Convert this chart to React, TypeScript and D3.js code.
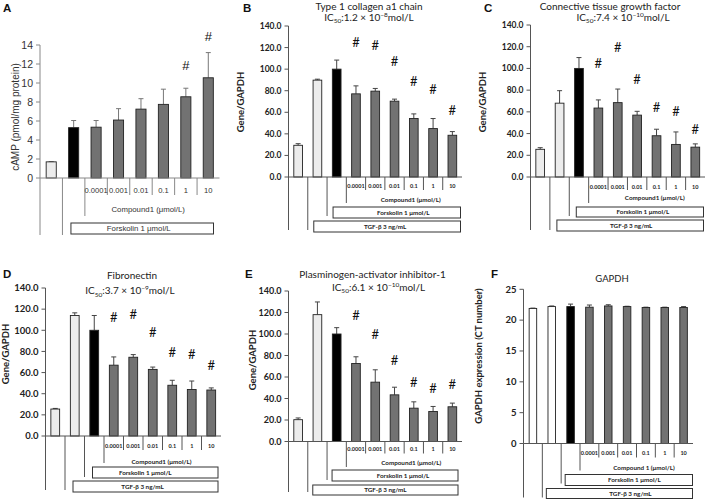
import React from "react";
import * as d3 from "d3";

// ---------- DATA ----------
const concLabels = ["0.0001", "0.001", "0.01", "0.1", "1", "10"];

const aValues = [1.7, 5.3, 5.35, 6.1, 7.25, 7.75, 8.55, 10.55];
const aErrors = [0.03, 0.75, 0.7, 1.2, 1.1, 1.6, 0.9, 2.65];
const aHash: (number | null)[] = [null, null, null, null, null, null, 11.85, 14.95];
const aTicks = [0, 2, 4, 6, 8, 10, 12, 14];

const bValues = [29.4, 89.8, 100, 77.1, 79.6, 70.3, 54.2, 44.9, 38.7];
const bErrors = [1.5, 0.9, 8.4, 7.4, 2.5, 1.9, 4.3, 9.3, 3.4];
const bHash: (number | null)[] = [null, null, null, 125, 122, 106.8, 88.2, 81, 62];

const cValues = [25.5, 68, 100, 63.5, 68.5, 57, 38, 30, 27.5];
const cErrors = [1.5, 11.5, 10, 7.5, 12.5, 3.5, 6, 11.5, 3];
const cHash: (number | null)[] = [null, null, null, 105, 119.5, 90, 64.3, 60.6, 44.2];

const dValues = [25.5, 114, 100, 67, 74.5, 63, 48, 44, 43.5];
const dErrors = [0.6, 2.5, 14, 7.8, 2.5, 2.2, 4.7, 8, 2];
const dHash: (number | null)[] = [null, null, null, 112.6, 115.1, 97.8, 78.9, 77.3, 67.2];

const eValues = [20.3, 118, 100, 72.6, 55.2, 43.4, 31, 27.9, 32.3];
const eErrors = [1.6, 11.8, 5.9, 6.2, 11.5, 7.1, 5.9, 4.7, 3.4];
const eHash: (number | null)[] = [null, null, null, 117.4, 99.4, 75.1, 55.2, 49.6, 53.3];

const fValues = [21.9, 22.2, 22.2, 22.1, 22.3, 22.2, 22.05, 22.05, 22.05];
const fErrors = [0.05, 0.1, 0.4, 0.35, 0.2, 0.05, 0.05, 0.05, 0.15];
const noHash: (number | null)[] = [null, null, null, null, null, null, null, null, null];

const geneTicks = [0, 20, 40, 60, 80, 100, 120, 140];
const gapdhTicks = [0, 5, 10, 15, 20, 25];

const kindsA = ["light", "black", "gray", "gray", "gray", "gray", "gray", "gray"];
const kindsGene = ["light", "light", "black", "gray", "gray", "gray", "gray", "gray", "gray"];
const kindsF = ["white", "white", "black", "gray", "gray", "gray", "gray", "gray", "gray"];

const titles = [
  "Type 1 collagen a1 chain",
  "Connective tissue growth factor",
  "Fibronectin",
  "Plasminogen-activator inhibitor-1",
  "GAPDH",
];
const icMant = ["1.2", "7.4", "3.7", "6.1"];
const icExp = ["−8", "−10", "−9", "−10"];

// ---------- STYLE ----------
const FONT_C = "Lato, 'Open Sans', sans-serif";
const FONT_A = "'Liberation Sans', Arial, sans-serif";
const fills: Record<string, string> = {
  light: "#ececec",
  white: "#ffffff",
  black: "#000000",
  gray: "#727272",
};

type Below = {
  concY: number; sepEnd: number; compY: number; compEnd: number;
  forskBox: [number, number]; forskEnd: number; tgfBox: [number, number] | null; bottom: number;
};

type PanelCfg = {
  letter: string; letterX: number; letterY: number;
  values: number[]; errors: number[]; hash: (number | null)[]; kinds: string[];
  x0: number; x1: number; yTop: number; yZero: number; yMax: number;
  ticks: number[]; tickFmt: (v: number) => string; tickSize: number; tickBold: boolean;
  font: string; axisColor: string; errColor: string; textColor: string;
  yTitle: string; yTitleX: number; yTitleY: number; yTitleSize: number; yTitleBold: boolean;
  title?: { text: string; x: number; y: number; size: number };
  ic?: { mant: string; exp: string; x: number; y: number; size: number };
  compStart: number; forskStart: number; tgfStart: number;
  compLabel: string; concSize: number; levelSize: number; levelBold: boolean;
  below: Below; boxL: number; boxR: number; compDx: number; forskDx: number; tgfDx: number;
  hashSize: number; padIn: number;
};

const stdBelow: Below = {
  concY: 9, sepEnd: 13, compY: 23, compEnd: 26, forskBox: [30, 41], forskEnd: 39, tgfBox: [44, 55], bottom: 53,
};

function Panel({ p }: { p: PanelCfg }) {
  const n = p.values.length;
  const xb = d3.scaleBand<number>().domain(d3.range(n)).range([p.x0, p.x1]).paddingInner(p.padIn).paddingOuter(p.padIn / 2);
  const xe = d3.scaleLinear().domain([0, n]).range([p.x0, p.x1]);
  const y = d3.scaleLinear().domain([0, p.yMax]).range([p.yZero, p.yTop]);
  const y0 = p.yZero;
  const L = p.below;
  const bw = xb.bandwidth();
  const cx = (i: number) => (xb(i) as number) + bw / 2;
  const fw = p.levelBold ? "bold" : "normal";
  const forskX0 = xe(p.forskStart) + p.boxL;
  const boxX1 = p.x1 - p.boxR;
  return (
    <g>
      <text x={p.letterX} y={p.letterY} fontFamily={FONT_A} fontWeight="bold" fontSize={11.5} fill="#111">{p.letter}</text>
      {p.title && (
        <text x={p.title.x} y={p.title.y} textAnchor="middle" fontFamily={FONT_C} fontSize={p.title.size} fill="#222">{p.title.text}</text>
      )}
      {p.ic && (
        <text x={p.ic.x} y={p.ic.y} textAnchor="middle" fontFamily={FONT_C} fontSize={p.ic.size} fill="#222">
          IC<tspan fontSize={p.ic.size * 0.65} dy={p.ic.size * 0.25}>50</tspan>
          <tspan dy={-p.ic.size * 0.25}>{":" + p.ic.mant + " × 10"}</tspan>
          <tspan fontSize={p.ic.size * 0.65} dy={-p.ic.size * 0.38}>{p.ic.exp}</tspan>
          <tspan dy={p.ic.size * 0.38}>mol/L</tspan>
        </text>
      )}
      {/* y axis */}
      <text transform={`translate(${p.yTitleX},${p.yTitleY}) rotate(-90)`} textAnchor="middle" dy="0.35em"
        fontFamily={p.font} fontSize={p.yTitleSize} fontWeight={p.yTitleBold ? "bold" : "normal"} fill={p.textColor}>{p.yTitle}</text>
      <line x1={p.x0} x2={p.x0} y1={y(0)} y2={y(p.yMax)} stroke={p.axisColor} strokeWidth={1} />
      {p.ticks.map((t) => (
        <g key={t}>
          <line x1={p.x0 - 4} x2={p.x0} y1={y(t)} y2={y(t)} stroke={p.axisColor} strokeWidth={1} />
          <text x={p.x0 - 7} y={y(t)} dy="0.35em" textAnchor="end" fontFamily={p.font} fontSize={p.tickSize}
            fontWeight={p.tickBold ? "bold" : "normal"} fill={p.textColor}>{p.tickFmt(t)}</text>
        </g>
      ))}
      {/* bars */}
      {p.values.map((v, i) => (
        <g key={i}>
          <line x1={cx(i)} x2={cx(i)} y1={y(v)} y2={y(v + p.errors[i])} stroke={p.errColor} strokeWidth={1} />
          <line x1={cx(i) - 2.5} x2={cx(i) + 2.5} y1={y(v + p.errors[i])} y2={y(v + p.errors[i])} stroke={p.errColor} strokeWidth={1} />
          <rect x={xb(i)} y={y(v)} width={bw} height={y0 - y(v)} fill={fills[p.kinds[i]]} stroke="#222" strokeWidth={0.9} />
          {p.hash[i] !== null && (
            <text x={cx(i)} y={y(p.hash[i] as number)} dy="0.35em" textAnchor="middle" fontFamily={p.font} fontSize={p.hashSize} fill="#111">#</text>
          )}
        </g>
      ))}
      {/* x axis & multi-level labels */}
      <line x1={p.x0} x2={p.x1} y1={y0} y2={y0} stroke={p.axisColor} strokeWidth={1} />
      <line x1={p.x0} x2={p.x0} y1={y0} y2={y0 + L.bottom} stroke={p.axisColor} strokeWidth={1} />
      {p.tgfStart >= 0 && (
        <line x1={xe(p.tgfStart)} x2={xe(p.tgfStart)} y1={y0} y2={y0 + L.bottom} stroke={p.axisColor} strokeWidth={1} />
      )}
      <line x1={xe(p.forskStart)} x2={xe(p.forskStart)} y1={y0} y2={y0 + L.forskEnd} stroke={p.axisColor} strokeWidth={1} />
      <line x1={xe(p.compStart)} x2={xe(p.compStart)} y1={y0} y2={y0 + L.compEnd} stroke={p.axisColor} strokeWidth={1} />
      {d3.range(p.compStart + 1, n).map((k) => (
        <line key={k} x1={xe(k)} x2={xe(k)} y1={y0} y2={y0 + L.sepEnd} stroke={p.axisColor} strokeWidth={1} />
      ))}
      {concLabels.map((c, j) => (
        <text key={c} x={cx(p.compStart + j)} y={y0 + L.concY} dy="0.35em" textAnchor="middle" fontFamily={p.font}
          fontSize={p.concSize} fontWeight={fw} fill={p.textColor}>{c}</text>
      ))}
      <text x={(xe(p.compStart) + p.x1) / 2 + p.compDx} y={y0 + L.compY} dy="0.35em" textAnchor="middle" fontFamily={p.font}
        fontSize={p.levelSize} fontWeight={fw} fill={p.textColor}>{p.compLabel}</text>
      <rect x={forskX0} y={y0 + L.forskBox[0]} width={boxX1 - forskX0} height={L.forskBox[1] - L.forskBox[0]} fill="#fff" stroke="#333" strokeWidth={1} />
      <text x={(forskX0 + boxX1) / 2 + p.forskDx} y={y0 + (L.forskBox[0] + L.forskBox[1]) / 2} dy="0.35em" textAnchor="middle"
        fontFamily={p.font} fontSize={p.levelSize} fontWeight={fw} fill={p.textColor}>Forskolin 1 μmol/L</text>
      {p.tgfStart >= 0 && L.tgfBox && (() => {
        const tx0 = xe(p.tgfStart) + p.boxL;
        return (
          <g>
            <rect x={tx0} y={y0 + L.tgfBox[0]} width={boxX1 - tx0} height={L.tgfBox[1] - L.tgfBox[0]} fill="#fff" stroke="#333" strokeWidth={1} />
            <text x={(tx0 + boxX1) / 2 + p.tgfDx} y={y0 + (L.tgfBox[0] + L.tgfBox[1]) / 2} dy="0.35em" textAnchor="middle"
              fontFamily={p.font} fontSize={p.levelSize} fontWeight={fw} fill={p.textColor}>TGF-β 3 ng/mL</text>
          </g>
        );
      })()}
    </g>
  );
}

const f1 = d3.format(".1f");
const f0 = d3.format("d");

export default function App() {
  const common = {
    font: FONT_C, axisColor: "#555", errColor: "#444", textColor: "#222",
    tickFmt: f1, tickBold: true, yTitle: "Gene/GAPDH", yTitleSize: 9.5, yTitleBold: true,
    compStart: 3, forskStart: 2, tgfStart: 1, compLabel: "Compound1 (μmol/L)",
    concSize: 5.5, levelSize: 6.3, levelBold: true, hashSize: 13, padIn: 0.55, yMax: 140, ticks: geneTicks,
  };
  const panels: PanelCfg[] = [
    {
      letter: "A", letterX: 3, letterY: 12, values: aValues, errors: aErrors, hash: aHash, kinds: kindsA,
      x0: 40, x1: 219.5, yTop: 45, yZero: 178, yMax: 14, ticks: aTicks, tickFmt: f0, tickSize: 10.5, tickBold: false,
      font: FONT_A, axisColor: "#888", errColor: "#777", textColor: "#333",
      yTitle: "cAMP (pmol/mg protein)", yTitleX: 15, yTitleY: 117, yTitleSize: 10, yTitleBold: false,
      compStart: 2, forskStart: 1, tgfStart: -1, compLabel: "Compound1 (μmol/L)", concSize: 7.6, levelSize: 7.8, levelBold: false,
      below: { concY: 12, sepEnd: 17, compY: 31, compEnd: 38, forskBox: [45, 56], forskEnd: 57, tgfBox: null, bottom: 57 },
      boxL: 8.5, boxR: 6, compDx: -4, forskDx: -3.5, tgfDx: 0, hashSize: 13, padIn: 0.55,
    },
    {
      ...common, letter: "B", letterX: 243, letterY: 12, values: bValues, errors: bErrors, hash: bHash, kinds: kindsGene,
      x0: 288.5, x1: 462, yTop: 26, yZero: 177, tickSize: 8.5, yTitleX: 241, yTitleY: 102,
      title: { text: titles[0], x: 369, y: 10, size: 10 }, ic: { mant: icMant[0], exp: icExp[0], x: 369, y: 20.5, size: 10 },
      below: stdBelow, boxL: 6, boxR: 1.5, compDx: 6.5, forskDx: 6.5, tgfDx: -2,
    },
    {
      ...common, letter: "C", letterX: 484, letterY: 12, values: cValues, errors: cErrors, hash: cHash, kinds: kindsGene,
      x0: 530.5, x1: 705, yTop: 25, yZero: 177, tickSize: 8.5, yTitleX: 483, yTitleY: 102,
      title: { text: titles[1], x: 610, y: 10, size: 10 }, ic: { mant: icMant[1], exp: icExp[1], x: 623, y: 20.5, size: 10 },
      below: { ...stdBelow, concY: 10, compY: 21, forskBox: [30, 40], tgfBox: [43, 54] },
      boxL: 7, boxR: 1.5, compDx: 8, forskDx: 3, tgfDx: 1,
    },
    {
      ...common, letter: "D", letterX: 3, letterY: 278, values: dValues, errors: dErrors, hash: dHash, kinds: kindsGene,
      x0: 45.5, x1: 221, yTop: 288, yZero: 436, tickSize: 9.5, yTitleX: 6, yTitleY: 354,
      title: { text: titles[2], x: 132, y: 278.5, size: 10 }, ic: { mant: icMant[2], exp: icExp[2], x: 130, y: 294, size: 10 },
      below: { concY: 10, sepEnd: 14, compY: 26, compEnd: 27, forskBox: [31, 42], forskEnd: 41, tgfBox: [45, 56], bottom: 54 },
      boxL: 8, boxR: 3, compDx: -1, forskDx: -10, tgfDx: -3,
    },
    {
      ...common, letter: "E", letterX: 245, letterY: 278, values: eValues, errors: eErrors, hash: eHash, kinds: kindsGene,
      x0: 288.5, x1: 462, yTop: 291, yZero: 441.5, tickSize: 9, yTitleX: 253, yTitleY: 360,
      title: { text: titles[3], x: 372.5, y: 277.5, size: 10 }, ic: { mant: icMant[3], exp: icExp[3], x: 378.5, y: 290.5, size: 10 },
      below: { concY: 8, sepEnd: 12, compY: 21.5, compEnd: 25.5, forskBox: [28.5, 39.5], forskEnd: 38.5, tgfBox: [43.5, 53.5], bottom: 50.5 },
      boxL: 5, boxR: 4, compDx: 7, forskDx: 8, tgfDx: 0,
    },
    {
      ...common, letter: "F", letterX: 491, letterY: 278, values: fValues, errors: fErrors, hash: noHash, kinds: kindsF,
      x0: 523.5, x1: 693, yTop: 289.3, yZero: 443.5, yMax: 25, ticks: gapdhTicks, tickFmt: f0, tickSize: 9.5,
      yTitle: "GAPDH expression (CT number)", yTitleX: 479, yTitleY: 356,
      title: { text: titles[4], x: 612, y: 281.5, size: 9.5 },
      compLabel: "Compound 1 (μmol/L)",
      below: { concY: 10, sepEnd: 14, compY: 24, compEnd: 27, forskBox: [31, 42], forskEnd: 40, tgfBox: [45, 55], bottom: 54 },
      boxL: 4, boxR: 0.5, compDx: 7.5, forskDx: 5.5, tgfDx: 11, padIn: 0.6,
    },
  ];
  return (
    <svg width={709} height={499} style={{ position: "absolute", left: 0, top: 0, background: "#fff" }}>
      <rect x={0} y={0} width={709} height={499} fill="#fff" />
      {panels.map((p) => (
        <Panel key={p.letter} p={p} />
      ))}
    </svg>
  );
}
